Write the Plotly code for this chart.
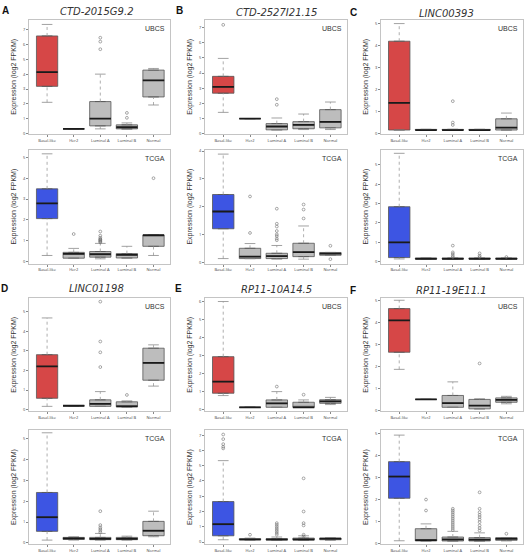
import plotly.graph_objects as go

W, H = 527, 553
CATEGORIES = ["Basal-like", "Her2", "Luminal A", "Luminal B", "Normal"]
PANELS = ["A", "B", "C", "D", "E", "F"]
GENES = ["CTD-2015G9.2", "CTD-2527I21.15", "LINC00393", "LINC01198", "RP11-10A14.5", "RP11-19E11.1"]
COHORTS = ["UBCS", "TCGA"]

# ---- A ----
A_UBCS_LO = [2.11, 0.33, 0.33, 0.29, 1.93]
A_UBCS_Q1 = [3.18, 0.33, 0.53, 0.33, 2.47]
A_UBCS_MED = [4.13, 0.33, 1.02, 0.44, 3.58]
A_UBCS_Q3 = [6.56, 0.33, 2.16, 0.60, 4.27]
A_UBCS_HI = [7.33, 0.33, 4.00, 0.73, 4.38]
A_UBCS_OUT_CAT = ["Luminal A", "Luminal A", "Luminal A", "Luminal B", "Luminal B"]
A_UBCS_OUT_VAL = [6.44, 6.18, 5.67, 1.40, 1.07]

A_TCGA_LO = [0.29, 0.16, 0.13, 0.16, 0.29]
A_TCGA_Q1 = [2.06, 0.16, 0.21, 0.17, 0.73]
A_TCGA_MED = [2.79, 0.37, 0.35, 0.32, 1.27]
A_TCGA_Q3 = [3.49, 0.44, 0.48, 0.38, 1.27]
A_TCGA_HI = [5.17, 0.63, 0.87, 0.73, 1.27]
A_TCGA_OUT_CAT = ["Her2"] + ["Luminal A"] * 9 + ["Normal"]
A_TCGA_OUT_VAL = [1.32, 1.44, 1.24, 1.14, 1.08, 1.05, 1.02, 0.98, 0.95, 0.92, 4.0]

# ---- B ----
B_UBCS_LO = [1.41, 1.00, 0.26, 0.28, 0.28]
B_UBCS_Q1 = [2.67, 1.00, 0.26, 0.33, 0.39]
B_UBCS_MED = [3.09, 1.00, 0.48, 0.59, 0.78]
B_UBCS_Q3 = [3.78, 1.00, 0.67, 0.80, 1.59]
B_UBCS_HI = [4.96, 1.00, 1.04, 1.30, 2.09]
B_UBCS_OUT_CAT = ["Basal-like", "Luminal A", "Luminal A"]
B_UBCS_OUT_VAL = [7.17, 2.28, 1.91]

B_TCGA_LO = [0.14, 0.14, 0.12, 0.12, 0.26]
B_TCGA_Q1 = [1.21, 0.14, 0.14, 0.21, 0.26]
B_TCGA_MED = [1.83, 0.21, 0.23, 0.37, 0.32]
B_TCGA_Q3 = [2.44, 0.51, 0.33, 0.69, 0.36]
B_TCGA_HI = [3.89, 0.68, 0.61, 1.31, 0.36]
B_TCGA_OUT_CAT = ["Her2"] * 2 + ["Luminal A"] * 8 + ["Luminal B"] * 3 + ["Normal"] * 2
B_TCGA_OUT_VAL = [2.37, 1.06, 1.93, 1.39, 1.29, 1.13, 1.01, 0.95, 0.86, 0.80,
                  2.08, 1.90, 1.58, 0.60, 0.12]

# ---- C ----
C_UBCS_LO = [0.17, 0.17, 0.17, 0.17, 0.17]
C_UBCS_Q1 = [0.17, 0.17, 0.17, 0.17, 0.17]
C_UBCS_MED = [1.40, 0.17, 0.17, 0.17, 0.28]
C_UBCS_Q3 = [4.20, 0.20, 0.20, 0.20, 0.68]
C_UBCS_HI = [5.00, 0.20, 0.20, 0.20, 0.94]
C_UBCS_OUT_CAT = ["Luminal A"] * 3
C_UBCS_OUT_VAL = [1.48, 0.51, 0.40]

C_TCGA_LO = [0.14, 0.14, 0.14, 0.14, 0.14]
C_TCGA_Q1 = [0.21, 0.14, 0.14, 0.14, 0.14]
C_TCGA_MED = [1.00, 0.15, 0.15, 0.15, 0.15]
C_TCGA_Q3 = [2.84, 0.18, 0.18, 0.18, 0.18]
C_TCGA_HI = [5.60, 0.18, 0.18, 0.18, 0.18]
C_TCGA_OUT_CAT = ["Luminal A"] * 5 + ["Luminal B"] * 3 + ["Normal"]
C_TCGA_OUT_VAL = [0.83, 0.48, 0.40, 0.31, 0.24, 0.43, 0.31, 0.24, 0.24]

# ---- D ----
D_UBCS_LO = [0.17, 0.20, 0.17, 0.13, 1.20]
D_UBCS_Q1 = [0.58, 0.20, 0.17, 0.15, 1.50]
D_UBCS_MED = [2.20, 0.20, 0.30, 0.17, 2.38]
D_UBCS_Q3 = [2.80, 0.20, 0.50, 0.40, 3.13]
D_UBCS_HI = [4.67, 0.20, 0.92, 0.45, 3.30]
D_UBCS_OUT_CAT = ["Luminal A"] * 4 + ["Luminal B"]
D_UBCS_OUT_VAL = [5.50, 3.47, 2.92, 2.17, 0.75]

D_TCGA_LO = [0.13, 0.13, 0.13, 0.13, 0.29]
D_TCGA_Q1 = [0.55, 0.16, 0.15, 0.15, 0.34]
D_TCGA_MED = [1.23, 0.21, 0.19, 0.19, 0.58]
D_TCGA_Q3 = [2.42, 0.26, 0.26, 0.26, 1.03]
D_TCGA_HI = [5.29, 0.29, 0.45, 0.32, 1.52]
D_TCGA_OUT_CAT = ["Luminal A"] * 6
D_TCGA_OUT_VAL = [1.52, 0.85, 0.74, 0.66, 0.58, 0.50]

# ---- E ----
E_UBCS_LO = [0.80, 0.15, 0.15, 0.15, 0.30]
E_UBCS_Q1 = [0.93, 0.15, 0.15, 0.15, 0.37]
E_UBCS_MED = [1.57, 0.15, 0.37, 0.15, 0.48]
E_UBCS_Q3 = [2.96, 0.15, 0.56, 0.43, 0.57]
E_UBCS_HI = [6.02, 0.15, 1.02, 0.56, 0.70]
E_UBCS_OUT_CAT = ["Luminal A", "Luminal B"]
E_UBCS_OUT_VAL = [1.30, 0.85]

E_TCGA_LO = [0.15, 0.13, 0.11, 0.11, 0.11]
E_TCGA_Q1 = [0.41, 0.15, 0.13, 0.13, 0.15]
E_TCGA_MED = [1.17, 0.17, 0.17, 0.17, 0.22]
E_TCGA_Q3 = [2.65, 0.22, 0.22, 0.26, 0.26]
E_TCGA_HI = [5.33, 0.26, 0.33, 0.41, 0.26]
E_TCGA_OUT_CAT = ["Basal-like"] * 5 + ["Her2"] + ["Luminal A"] * 8 + ["Luminal B"] * 6
E_TCGA_OUT_VAL = [7.04, 6.74, 6.41, 6.24, 6.13, 0.48,
                  1.24, 1.13, 1.02, 0.91, 0.80, 0.70, 0.59, 0.48,
                  4.17, 2.00, 1.24, 1.09, 0.48, 0.37]

# ---- F ----
F_UBCS_LO = [1.88, 0.51, 0.15, 0.08, 0.31]
F_UBCS_Q1 = [2.66, 0.51, 0.15, 0.08, 0.38]
F_UBCS_MED = [4.11, 0.51, 0.34, 0.23, 0.49]
F_UBCS_Q3 = [4.65, 0.51, 0.69, 0.51, 0.58]
F_UBCS_HI = [5.03, 0.51, 1.31, 0.54, 0.65]
F_UBCS_OUT_CAT = ["Luminal B"]
F_UBCS_OUT_VAL = [2.15]

F_TCGA_LO = [0.12, 0.11, 0.09, 0.09, 0.11]
F_TCGA_Q1 = [2.06, 0.11, 0.11, 0.11, 0.14]
F_TCGA_MED = [3.05, 0.15, 0.18, 0.17, 0.21]
F_TCGA_Q3 = [3.73, 0.67, 0.29, 0.26, 0.26]
F_TCGA_HI = [4.94, 0.89, 0.55, 0.48, 0.26]
F_TCGA_OUT_CAT = ["Her2"] * 2 + ["Luminal A"] * 12 + ["Luminal B"] * 10 + ["Normal"]
F_TCGA_OUT_VAL = [2.00, 1.50,
                  1.58, 1.50, 1.42, 1.33, 1.24, 1.15, 1.06, 0.97, 0.88, 0.79, 0.70, 0.61,
                  2.33, 1.58, 1.42, 1.30, 1.20, 1.09, 0.97, 0.82, 0.70, 0.59,
                  0.44]

Y_MAX = {
    ("A", "UBCS"): (0.0, 7.64, 7), ("A", "TCGA"): (-0.1, 5.37, 5),
    ("B", "UBCS"): (0.0, 7.5, 7), ("B", "TCGA"): (-0.04, 4.05, 4),
    ("C", "UBCS"): (0.0, 5.17, 5), ("C", "TCGA"): (-0.1, 5.79, 5),
    ("D", "UBCS"): (-0.08, 5.67, 5), ("D", "TCGA"): (-0.06, 5.42, 5),
    ("E", "UBCS"): (-0.07, 6.2, 6), ("E", "TCGA"): (-0.13, 7.33, 7),
    ("F", "UBCS"): (-0.03, 5.12, 5), ("F", "TCGA"): (-0.03, 5.17, 5),
}

G = globals()
COL_X = [(29, 170), (205, 347), (381, 523)]
ROW_Y = {(0, "UBCS"): (19, 134), (0, "TCGA"): (150, 265),
         (1, "UBCS"): (300, 414), (1, "TCGA"): (433, 548)}
LABEL_POS = [(5, 10), (179, 10), (353, 12), (4, 290), (178, 290), (353, 292)]
TITLE_POS = [(97, 11), (276, 12), (446, 13), (96, 290), (276, 291), (451, 292)]

RED = "#d64747"
BLUE = "#3d55e3"
GRAY = "#bdbdbd"

fig = go.Figure()
layout = dict(width=W, height=H, margin=dict(l=0, r=0, t=0, b=0),
              paper_bgcolor="white", plot_bgcolor="white", showlegend=False,
              annotations=[])

k = 0
for pi, p in enumerate(PANELS):
    col = pi % 3
    row = pi // 3
    for c in COHORTS:
        k += 1
        xa = "x" if k == 1 else f"x{k}"
        ya = "y" if k == 1 else f"y{k}"
        xkey = "xaxis" if k == 1 else f"xaxis{k}"
        ykey = "yaxis" if k == 1 else f"yaxis{k}"
        lo = G[f"{p}_{c}_LO"]; q1 = G[f"{p}_{c}_Q1"]; med = G[f"{p}_{c}_MED"]
        q3 = G[f"{p}_{c}_Q3"]; hi = G[f"{p}_{c}_HI"]
        oc = G[f"{p}_{c}_OUT_CAT"]; ov = G[f"{p}_{c}_OUT_VAL"]
        pos = list(range(len(CATEGORIES)))
        # whiskers (dotted)
        wx, wy = [], []
        for i in pos:
            wx += [i, i, None, i, i, None]
            wy += [q3[i], hi[i], None, lo[i], q1[i], None]
        fig.add_trace(go.Scatter(x=wx, y=wy, mode="lines", xaxis=xa, yaxis=ya,
                                 line=dict(color="#9a9a9a", width=0.8, dash="dot"),
                                 hoverinfo="skip"))
        # caps
        cx, cy = [], []
        for i in pos:
            cx += [i - 0.2, i + 0.2, None, i - 0.2, i + 0.2, None]
            cy += [hi[i], hi[i], None, lo[i], lo[i], None]
        fig.add_trace(go.Scatter(x=cx, y=cy, mode="lines", xaxis=xa, yaxis=ya,
                                 line=dict(color="#8a8a8a", width=0.8),
                                 hoverinfo="skip"))
        # boxes
        fill = RED if c == "UBCS" else BLUE
        fig.add_trace(go.Box(x=[0], q1=[q1[0]], median=[med[0]], q3=[q3[0]],
                             lowerfence=[q1[0]], upperfence=[q3[0]], width=0.8,
                             fillcolor=fill, line=dict(color="#555555", width=0.8),
                             xaxis=xa, yaxis=ya, boxpoints=False))
        fig.add_trace(go.Box(x=pos[1:], q1=q1[1:], median=med[1:], q3=q3[1:],
                             lowerfence=q1[1:], upperfence=q3[1:], width=0.8,
                             fillcolor=GRAY, line=dict(color="#555555", width=0.8),
                             xaxis=xa, yaxis=ya, boxpoints=False))
        # medians
        mx, my = [], []
        for i in pos:
            mx += [i - 0.4, i + 0.4, None]
            my += [med[i], med[i], None]
        fig.add_trace(go.Scatter(x=mx, y=my, mode="lines", xaxis=xa, yaxis=ya,
                                 line=dict(color="#1a1a1a", width=1.8),
                                 hoverinfo="skip"))
        # outliers
        fig.add_trace(go.Scatter(x=[CATEGORIES.index(n) for n in oc], y=ov,
                                 mode="markers", xaxis=xa, yaxis=ya,
                                 marker=dict(symbol="circle-open", size=2.8,
                                             color="#6f6f6f", line=dict(width=0.6)),
                                 hoverinfo="skip"))
        x0, x1 = COL_X[col]
        y0, y1 = ROW_Y[(row, c)]
        ymin, ymax, nt = Y_MAX[(p, c)]
        layout[xkey] = dict(domain=[x0 / W, x1 / W], anchor=ya, range=[-0.68, 4.62],
                            tickvals=pos, ticktext=CATEGORIES,
                            tickfont=dict(size=4, color="#444"), ticks="outside",
                            ticklen=2, tickcolor="#888", showline=True, mirror=True,
                            linecolor="#c4c4c4", linewidth=1, showgrid=False,
                            zeroline=False, fixedrange=True)
        layout[ykey] = dict(domain=[1 - y1 / H, 1 - y0 / H], anchor=xa,
                            range=[ymin, ymax], tickvals=list(range(nt + 1)),
                            tickfont=dict(size=4, color="#444"), ticks="outside",
                            ticklen=2, tickcolor="#888", showline=True, mirror=True,
                            linecolor="#c4c4c4", linewidth=1, showgrid=False,
                            zeroline=False, fixedrange=True)
        # cohort label
        layout["annotations"].append(dict(
            x=(x1 - 3) / W, y=1 - (y0 + 3) / H, xref="paper", yref="paper",
            text=c, showarrow=False, xanchor="right", yanchor="top",
            font=dict(size=7, color="#333", family="Liberation Sans, Arial")))
        # y title
        layout["annotations"].append(dict(
            x=(x0 - 15) / W, y=1 - ((y0 + y1) / 2) / H, xref="paper", yref="paper",
            text="Expression (log2 FPKM)", showarrow=False, textangle=-90,
            xanchor="center", yanchor="middle",
            font=dict(size=7, color="#333", family="Liberation Sans, Arial")))
    lx, ly = LABEL_POS[pi]
    layout["annotations"].append(dict(
        x=lx / W, y=1 - ly / H, xref="paper", yref="paper", text=f"<b>{p}</b>",
        showarrow=False, xanchor="center", yanchor="middle",
        font=dict(size=10, color="#111", family="Liberation Sans, Arial")))
    tx, ty = TITLE_POS[pi]
    layout["annotations"].append(dict(
        x=tx / W, y=1 - ty / H, xref="paper", yref="paper", text=f"<i>{GENES[pi]}</i>",
        showarrow=False, xanchor="center", yanchor="middle",
        font=dict(size=10, color="#333", family="DejaVu Sans")))

fig.update_layout(**layout)
fig.write_html("out.html")
